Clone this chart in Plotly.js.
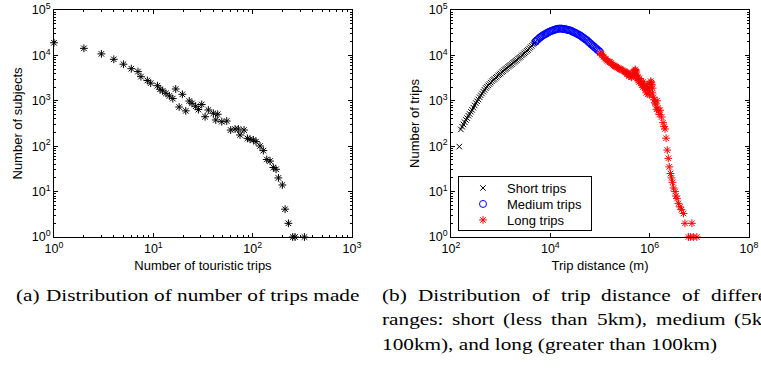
<!DOCTYPE html>
<html>
<head>
<meta charset="utf-8">
<script src="https://cdn.plot.ly/plotly-3.0.1.min.js"></script>
<style>
html,body{margin:0;padding:0;background:#fff;overflow:hidden;}
#wrap{position:relative;width:761px;height:369px;overflow:hidden;}
#chart{position:absolute;left:0;top:0;width:761px;height:369px;}
.cap{position:absolute;font-family:'Liberation Serif','Times New Roman',serif;font-size:17px;line-height:20px;height:20px;white-space:nowrap;color:#000;transform-origin:0 50%;}
</style>
</head>
<body>
<div id="wrap"><div id="chart"></div><div id="caps"></div></div>
<script>
// ---- (a) distribution of number of trips made ----
const tripCounts = [1,2,3,4,5,6,7,7.5,8.7,9.4,11,11.7,12.4,13.4,14.5,15.7,16.8,18.2,19.6,21.2,23,24.5,26.7,28.4,30.7,33.2,35.8,40.2,42.5,44.5,48.9,54.8,60.1,66.5,71.8,74.6,81.9,88.5,94.2,101.7,108,118.6,128,138.7,149.6,161.5,172,181.6,199,212,229,253,267,332];
const subjectCounts = [19000,14300,10800,8200,6400,5100,4400,3400,2800,2450,2150,1800,1650,1460,1280,1120,1820,730,1390,600,990,880,760,640,830,446,627,531,378,505,347,359,227,239,239,177,227,149,142,137,126,101,80,51,47,34,31,20,14,4.1,2,1,1,1];

// ---- (b) distribution of trip distance ----
const shortDist = [147,158,168,178,188,200,211,224,237,251,266,282,299,316,335,355,376,398,422,447,473,501,531,562,596,631,668,708,750,794,841,891,944,1000,1059,1122,1189,1259,1334,1413,1496,1585,1679,1778,1884,1995,2113,2239,2371,2512,2661,2818,2985,3162,3350,3548,3758,3981,4217,4467,4732,5012];
const shortTrips = [98,234,269,302,339,380,417,468,513,575,631,708,794,891,977,1072,1202,1318,1445,1585,1738,1905,2042,2188,2344,2512,2692,2884,3020,3236,3388,3631,3802,3981,4266,4467,4786,5012,5248,5623,5888,6166,6457,6918,7244,7586,7943,8511,8913,9333,10000,10470,11090,11750,12590,13180,14130,15140,16220,17380,18620,19950];
const mediumDist = [5010,5310,5620,5960,6310,6680,7080,7500,7940,8410,8910,9440,10000,10600,11200,11900,12600,13300,14100,15000,15800,16800,17800,18800,20000,21100,22400,23700,25100,26600,28200,29900,31600,33500,35500,37600,39800,42200,44700,47300,50100,53100,56200,59600,63100,66800,70800,75000,79400,84100,89100,94400,100000];
const mediumTrips = [19950,21400,22400,24000,25100,26300,27500,28800,29500,30900,31600,33100,33900,34700,35500,36300,37200,38000,38500,38900,38900,38900,38500,38000,38000,37200,36300,35900,35500,34700,33100,32400,31600,30500,29500,28500,27500,26300,25100,24000,22900,21900,20900,19500,18600,17400,16600,15800,14800,14100,13200,12600,12000];
const longDist = [100000,108000,112000,118000,126000,133000,141000,150000,158000,168000,178000,188000,200000,212000,224000,237000,251000,266000,282000,299000,316000,335000,345000,355000,370000,380000,398000,410000,427000,440000,457000,470000,490000,500000,513000,525000,537000,550000,562000,575000,589000,610000,631000,661000,680000,708000,725000,741000,770000,794000,830000,851000,891000,920000,955000,980000,1000000,1020000,1050000,1080000,1100000,1130000,1150000,1190000,1230000,1270000,1320000,1370000,1410000,1460000,1510000,1560000,1620000,1740000,1860000,1950000,2040000,2140000,2260000,2370000,2480000,2630000,2750000,2880000,3020000,3240000,3390000,3550000,3800000,4070000,4370000,4790000,5130000,7080000,6030000,6610000,7590000,8910000];
const longTrips = [11200,10500,10000,9200,8500,8200,7600,7300,7100,6800,6300,6000,5800,5600,5400,5200,5000,4900,4700,4500,4400,4200,3900,4100,4000,3500,3700,3600,3300,3400,4000,4300,4600,3800,4900,4600,4300,3600,3100,3300,2800,2600,3100,2400,2700,2200,2000,2600,2300,1900,1800,1500,2100,1400,1700,2400,1350,1900,2700,2500,2300,1500,1900,1200,1050,900,850,650,1000,700,600,500,620,440,330,270,240,150,82,54,35,25,20,16,12,10,8,7,5.5,4.6,4,3.3,2,2,1,1,1,1];
const seriesNames = ['Short trips','Medium trips','Long trips'];

// ---- tick labels ----
const tripTickVals = [1,10,100,1000];
const tripTickText = ['10<sup>0</sup>','10<sup>1</sup>','10<sup>2</sup>','10<sup>3</sup>'];
const countTickVals = [1,10,100,1000,10000,100000];
const countTickText = ['10<sup>0</sup>','10<sup>1</sup>','10<sup>2</sup>','10<sup>3</sup>','10<sup>4</sup>','10<sup>5</sup>'];
const distTickVals = [1e2,1e4,1e6,1e8];
const distTickText = ['10<sup>2</sup>','10<sup>4</sup>','10<sup>6</sup>','10<sup>8</sup>'];

const W = 761, H = 369;
const yDom = [1 - 237/H, 1 - 10/H];
const minorTicks = {ticks:'inside', ticklen:2, tickwidth:1, tickcolor:'#000', dtick:'D1', showgrid:false};
function ax(extra){
  return Object.assign({
    type:'log', showline:true, linecolor:'#000', linewidth:1, mirror:'ticks',
    ticks:'inside', ticklen:4, tickwidth:1, tickcolor:'#000',
    showgrid:false, zeroline:false, tickmode:'array', automargin:false,
    tickfont:{size:12.5, color:'#000'}
  }, extra);
}

const traces = [
  {type:'scatter', mode:'markers', x:tripCounts, y:subjectCounts, xaxis:'x', yaxis:'y',
   marker:{symbol:'asterisk-open', size:6.5, color:'#000', line:{width:1, color:'#000'}},
   showlegend:false, cliponaxis:false, hoverinfo:'skip'},
  {type:'scatter', mode:'markers', name:seriesNames[0], x:shortDist, y:shortTrips, xaxis:'x2', yaxis:'y2',
   marker:{symbol:'x-thin-open', size:5.5, color:'#000', line:{width:1, color:'#000'}}, cliponaxis:false, hoverinfo:'skip'},
  {type:'scatter', mode:'markers', name:seriesNames[1], x:mediumDist, y:mediumTrips, xaxis:'x2', yaxis:'y2',
   marker:{symbol:'circle-open', size:7, color:'#0000ff', line:{width:1, color:'#0000ff'}}, cliponaxis:false, hoverinfo:'skip'},
  {type:'scatter', mode:'markers', name:seriesNames[2], x:longDist, y:longTrips, xaxis:'x2', yaxis:'y2',
   marker:{symbol:'asterisk-open', size:6.5, color:'#ff0000', line:{width:1, color:'#ff0000'}}, cliponaxis:false, hoverinfo:'skip'}
];

const layout = {
  width:W, height:H, margin:{l:0,r:0,t:0,b:0},
  paper_bgcolor:'#fff', plot_bgcolor:'#fff',
  font:{family:'Liberation Sans, Arial, sans-serif', size:13, color:'#000'},
  showlegend:true,
  xaxis: ax({domain:[54/W, 352/W], range:[0,3], anchor:'y', tickvals:tripTickVals, ticktext:tripTickText,
             minor:minorTicks, title:{text:'Number of touristic trips', font:{size:13}, standoff:5}}),
  yaxis: ax({domain:yDom, range:[0,5], anchor:'x', tickvals:countTickVals, ticktext:countTickText,
             minor:minorTicks, title:{text:'Number of subjects', font:{size:13}, standoff:6}}),
  xaxis2: ax({domain:[451/W, 749/W], range:[2,8], anchor:'y2', tickvals:distTickVals, ticktext:distTickText,
             title:{text:'Trip distance (m)', font:{size:13}, standoff:5}}),
  yaxis2: ax({domain:yDom, range:[0,5], anchor:'x2', tickvals:countTickVals, ticktext:countTickText,
             minor:minorTicks, title:{text:'Number of trips', font:{size:13}, standoff:6}}),
  legend:{x:458/W, y:1-176/H, xanchor:'left', yanchor:'top', bgcolor:'#fff', bordercolor:'#000', borderwidth:1,
          font:{size:13, color:'#000'}, itemwidth:38, tracegroupgap:0}
};

Plotly.newPlot('chart', traces, layout, {staticPlot:true, displayModeBar:false}).then(function(){
  tightenLegend();
  drawCaptions();
});

// Match the compact legend spacing of the source (16 px per row, 54 px box)
function tightenLegend(){
  const leg = document.querySelector('#chart .legend');
  if(!leg) return;
  const items = leg.querySelectorAll('g.traces');
  let y0 = null;
  items.forEach(function(g, i){
    const tr = g.getAttribute('transform') || '';
    const m = /translate\(\s*([-\d.e]+)[ ,]+([-\d.e]+)\s*\)/.exec(tr);
    if(!m) return;
    const x = parseFloat(m[1]), y = parseFloat(m[2]);
    if(y0 === null) y0 = y;
    g.setAttribute('transform', 'translate(' + x + ',' + (y0 - 4 + 16*i) + ')');
  });
  const bg = leg.querySelector('rect.bg');
  if(bg){ bg.setAttribute('height', 54); bg.setAttribute('width', 133); }
}

// ---- captions (real text, horizontally stretched serif like the source) ----
function drawCaptions(){
  const host = document.getElementById('caps');
  function word(t, x, yc, sx){
    const s = document.createElement('span');
    s.className = 'cap';
    s.textContent = t;
    s.style.left = x + 'px';
    s.style.top = (yc - 10) + 'px';
    s.style.transform = 'scaleX(' + sx + ')';
    host.appendChild(s);
    return s;
  }
  function widthOf(t, sx){
    const s = word(t, -1000, -100, sx);
    const w = s.getBoundingClientRect().width;
    host.removeChild(s);
    return w;
  }
  function justified(words, left, lastStart, yc, sx){
    const ws = words.map(function(w){ return widthOf(w, sx); });
    let sum = 0; for(let i=0;i<ws.length-1;i++) sum += ws[i];
    const gap = (lastStart - left - sum) / (words.length - 1);
    let x = left;
    words.forEach(function(w,i){ word(w, x, yc, sx); x += ws[i] + gap; });
  }
  word('(a)', 16, 296, 1.25);
  word('Distribution of number of trips made', 46, 296, 1.25);
  justified(['(b)','Distribution','of','trip','distance','of','different'], 382, 711, 296, 1.25);
  justified(['ranges:','short','(less','than','5km),','medium','(5km –'], 382, 734, 320, 1.25);
  word('100km), and long (greater than 100km)', 382, 344.5, 1.25);
}
</script>
</body>
</html>
